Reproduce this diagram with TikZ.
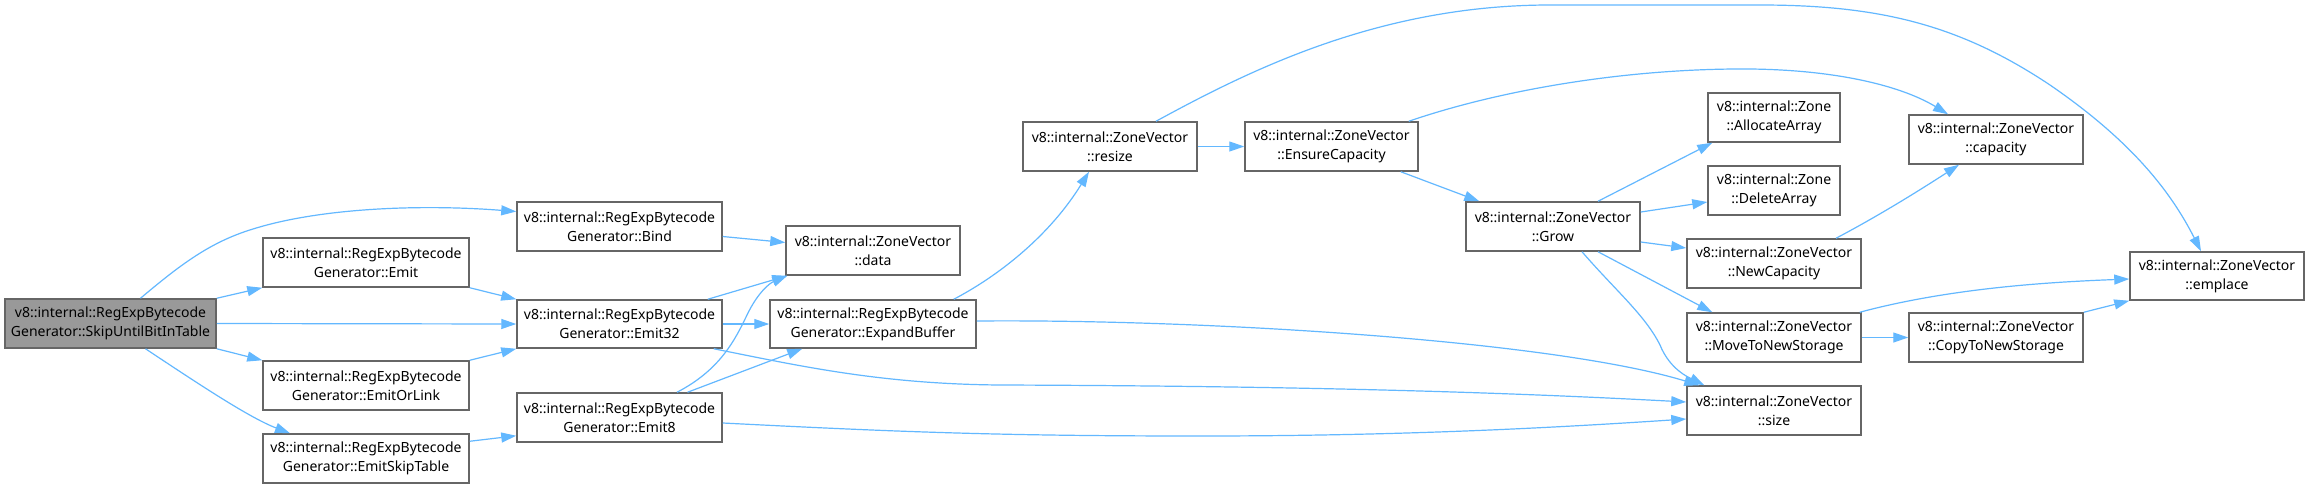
\documentclass[tikz,border=0pt]{standalone}
\usepackage{fontspec}
\setmainfont{Noto Sans}
\usetikzlibrary{arrows.meta,calc}
\definecolor{edgec}{HTML}{63B8FF}
\definecolor{boxc}{HTML}{666666}
\definecolor{rootc}{HTML}{999999}
\tikzset{
  box/.style={draw=boxc, line width=1.5pt, fill=white, inner sep=0pt, align=center,
    minimum height=49pt, font=\fontsize{14}{19}\selectfont, text=black},
  rootbox/.style={box, fill=rootc},
  edge/.style={draw=edgec, line width=1.2pt, -{Triangle[length=15pt,width=10pt]}},
}
\begin{document}
\begin{tikzpicture}[x=1pt,y=-1pt]
\useasboundingbox (0,0) rectangle (2309,488);
\fill[white] (0,0) rectangle (2309,488);
% nodes
\node[rootbox, minimum width=211pt] (skip) at (110.5,323.5) {v8::internal::RegExpBytecode\\Generator::SkipUntilBitInTable};
\node[box, minimum width=206pt] (emit) at (366,262.5) {v8::internal::RegExpBytecode\\Generator::Emit};
\node[box, minimum width=206pt] (emitorlink) at (366,385.5) {v8::internal::RegExpBytecode\\Generator::EmitOrLink};
\node[box, minimum width=206pt] (emitskip) at (366,458.5) {v8::internal::RegExpBytecode\\Generator::EmitSkipTable};
\node[box, minimum width=205pt] (bind) at (619.5,226.5) {v8::internal::RegExpBytecode\\Generator::Bind};
\node[box, minimum width=205pt, minimum height=48pt] (emit32) at (619.5,324) {v8::internal::RegExpBytecode\\Generator::Emit32};
\node[box, minimum width=205pt] (emit8) at (619.5,417.5) {v8::internal::RegExpBytecode\\Generator::Emit8};
\node[box, minimum width=174pt] (data) at (873,250.5) {v8::internal::ZoneVector\\::data};
\node[box, minimum width=206pt, minimum height=48pt] (expand) at (873,324) {v8::internal::RegExpBytecode\\Generator::ExpandBuffer};
\node[box, minimum width=174pt] (resize) at (1110,146.5) {v8::internal::ZoneVector\\::resize};
\node[box, minimum width=173pt] (ensure) at (1331.5,146.5) {v8::internal::ZoneVector\\::EnsureCapacity};
\node[box, minimum width=174pt] (grow) at (1553,226.5) {v8::internal::ZoneVector\\::Grow};
\node[box, minimum width=132pt] (alloc) at (1774,117.5) {v8::internal::Zone\\::AllocateArray};
\node[box, minimum width=132pt] (delete) at (1774,190.5) {v8::internal::Zone\\::DeleteArray};
\node[box, minimum width=174pt] (newcap) at (1774,263.5) {v8::internal::ZoneVector\\::NewCapacity};
\node[box, minimum width=174pt] (move) at (1774,337.5) {v8::internal::ZoneVector\\::MoveToNewStorage};
\node[box, minimum width=174pt] (size) at (1774,410.5) {v8::internal::ZoneVector\\::size};
\node[box, minimum width=174pt] (capacity) at (1996,139.5) {v8::internal::ZoneVector\\::capacity};
\node[box, minimum width=174pt] (copy) at (1996,337.5) {v8::internal::ZoneVector\\::CopyToNewStorage};
\node[box, minimum width=174pt, minimum height=48pt] (emplace) at (2217,276) {v8::internal::ZoneVector\\::emplace};
% edges
\draw[edge] ([xshift=30pt]skip.north) .. controls (180,265) and (210,242) .. (253,229) .. controls (320,208) and (420,204) .. ([yshift=15pt]bind.west);
\draw[edge] (skip.north east) -- (emit.south west);
\draw[edge] (skip.east) -- (emit32.west);
\draw[edge] (skip.south east) -- (emitorlink.north west);
\draw[edge] ([xshift=35pt]skip.south) .. controls (200,385) and (250,418) .. ([xshift=-76pt]emitskip.north);
\draw[edge] (emit.south east) -- (emit32.north west);
\draw[edge] (emitorlink.north east) -- (emit32.south west);
\draw[edge] ([yshift=-8pt]emitskip.north east) -- ([yshift=7pt]emit8.south west);
\draw[edge] ([yshift=-10pt]bind.east) -- ([yshift=8pt]data.west);
\draw[edge] ([xshift=-15pt]emit32.north east) -- ([xshift=2pt]data.south west);
\draw[edge] (emit32.east) -- (expand.west);
\draw[edge] ([xshift=-9pt]emit32.south east) .. controls (800,366) and (880,384) .. (1000,385) .. controls (1300,386) and (1500,392) .. ([yshift=8.5pt]size.west);
\draw[edge] ([xshift=57.5pt]emit8.north) .. controls (720,370) and (735,340) .. (747,315) .. controls (758,292) and (770,283) .. ([xshift=2pt]data.south west);
\draw[edge] ([xshift=68pt]emit8.north) -- ([xshift=33pt]expand.south west);
\draw[edge] ([yshift=-5.5pt]emit8.east) .. controls (900,432) and (1000,436) .. (1200,436) .. controls (1400,436) and (1550,428) .. ([yshift=-8.5pt]size.west);
\draw[edge] ([xshift=-23pt]expand.north east) .. controls (1000,275) and (1050,235) .. ([xshift=-21pt]resize.south);
\draw[edge] ([yshift=3pt]expand.east) .. controls (1200,319) and (1550,340) .. ([xshift=13pt]size.north west);
\draw[edge] (resize.east) -- (ensure.west);
\draw[edge] ([xshift=46pt]resize.north) .. controls (1250,70) and (1380,5) .. (1550,5) -- (1760,5) .. controls (1880,5) and (1960,25) .. (2050,85) .. controls (2130,140) and (2170,190) .. ([xshift=-16pt]emplace.north);
\draw[edge] ([xshift=-10pt]ensure.north east) .. controls (1500,90) and (1620,70) .. (1734,69) .. controls (1830,68) and (1900,85) .. ([xshift=-48pt]capacity.north);
\draw[edge] ([xshift=-18pt]ensure.south east) -- ([xshift=14pt]grow.north west);
\draw[edge] ([xshift=45pt]grow.north) -- ([xshift=5pt]alloc.south west);
\draw[edge] ([yshift=14.5pt]grow.east) -- ([yshift=-11.5pt]delete.west);
\draw[edge] ([yshift=-15.5pt]grow.east) -- ([yshift=15.5pt]newcap.west);
\draw[edge] ([xshift=45pt]grow.south) -- ([xshift=26pt]move.north west);
\draw[edge] ([xshift=29pt]grow.south) .. controls (1615,290) and (1645,315) .. (1660,345) .. controls (1670,370) and (1690,378) .. ([xshift=18pt]size.north west);
\draw[edge] ([xshift=62pt]newcap.north) .. controls (1880,215) and (1920,190) .. ([xshift=-37pt]capacity.south);
\draw[edge] (move.east) -- (copy.west);
\draw[edge] ([xshift=-2pt]move.north east) .. controls (1950,288) and (2050,282) .. ([yshift=-3pt]emplace.west);
\draw[edge] (copy.north east) -- (emplace.south west);
\end{tikzpicture}
\end{document}
